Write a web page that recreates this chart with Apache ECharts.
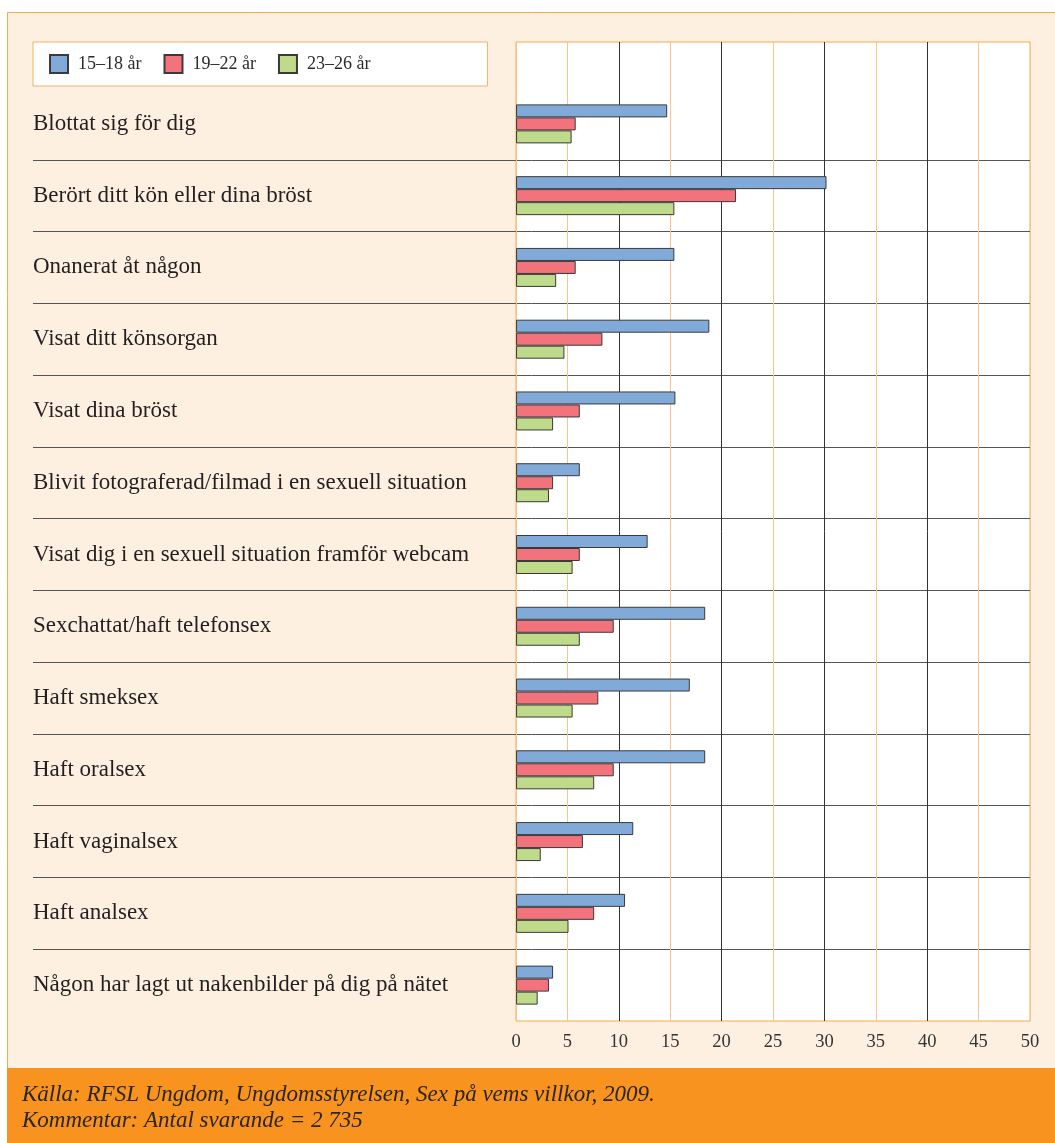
<!DOCTYPE html>
<html>
<head>
<meta charset="utf-8">
<script src="https://cdn.jsdelivr.net/npm/echarts@6/dist/echarts.min.js"></script>
<style>
  html, body { margin: 0; padding: 0; background: #fff; }
  #chart { width: 1055px; height: 1143px; }
</style>
</head>
<body>
<div id="chart"></div>
<script>
// kategorier, uppifrån och ner
const categories = [
  'Blottat sig för dig',
  'Berört ditt kön eller dina bröst',
  'Onanerat åt någon',
  'Visat ditt könsorgan',
  'Visat dina bröst',
  'Blivit fotograferad/filmad i en sexuell situation',
  'Visat dig i en sexuell situation framför webcam',
  'Sexchattat/haft telefonsex',
  'Haft smeksex',
  'Haft oralsex',
  'Haft vaginalsex',
  'Haft analsex',
  'Någon har lagt ut nakenbilder på dig på nätet'
]
const seriesNames = ['15–18 år', '19–22 år', '23–26 år']
const values1518 = [14.7, 30.2, 15.4, 18.8, 15.5, 6.2, 12.8, 18.4, 16.9, 18.4, 11.4, 10.6, 3.6]
const values1922 = [5.8, 21.4, 5.8, 8.4, 6.2, 3.6, 6.2, 9.5, 8.0, 9.5, 6.5, 7.6, 3.2]
const values2326 = [5.4, 15.4, 3.9, 4.7, 3.6, 3.2, 5.5, 6.2, 5.5, 7.6, 2.4, 5.1, 2.1]
// x-axelns skala
const xMin = 0
const xMax = 50
const xStep = 5
const footerLines = [
  'Källa: RFSL Ungdom, Ungdomsstyrelsen, Sex på vems villkor, 2009.',
  'Kommentar: Antal svarande = 2 735'
]

const colors = ['#82aad9', '#f2737c', '#bddb8a']
const serif = '"Liberation Serif", "DejaVu Serif", serif'

const chart = echarts.init(document.getElementById('chart'), null, {renderer: 'canvas'})

const makeBar = (name, data, i) => ({
  name: name,
  type: 'bar',
  xAxisIndex: 1,
  yAxisIndex: 1,
  barWidth: 13,
  barGap: '0%',
  data: data,
  itemStyle: {
    color: colors[i],
    borderColor: '#3a3a3a',
    borderWidth: 1
  }
})

const option = {
  backgroundColor: '#fff',
  animation: false,
  graphic: [
    {
      type: 'rect',
      z: -10,
      shape: {x: 7.5, y: 12.5, width: 1100, height: 1200},
      style: {fill: '#fdf0e1', stroke: '#f6a94f', lineWidth: 1}
    },
    {
      type: 'rect',
      z: -9,
      shape: {x: 7, y: 1068, width: 1060, height: 80},
      style: {fill: '#f7931e'}
    }
  ],
  title: {
    text: footerLines.join('\n'),
    left: 22,
    top: 1082,
    padding: 0,
    textStyle: {
      fontFamily: serif,
      fontStyle: 'italic',
      fontWeight: 'normal',
      fontSize: 23,
      lineHeight: 26,
      color: '#2a2520'
    }
  },
  legend: {
    left: 33,
    top: 42,
    padding: [12, 117, 12, 16],
    itemWidth: 18,
    itemHeight: 18,
    itemGap: 22,
    icon: 'rect',
    backgroundColor: '#fff',
    borderColor: '#f6b066',
    borderWidth: 1,
    textStyle: {
      fontFamily: serif,
      fontSize: 18,
      color: '#2a2a2a',
      padding: [0, 0, 0, 5]
    },
    data: seriesNames
  },
  grid: [
    // vita plottytan med stödlinjer
    {
      left: 516, right: 25, top: 42, bottom: 122,
      show: true,
      z: -1,
      backgroundColor: '#fff',
      borderColor: '#f6a94f',
      borderWidth: 1
    },
    // staplarna, utdragen åt vänster så att skiljelinjerna når etiketterna
    {left: 33, right: 25, top: 88, bottom: 122}
  ],
  xAxis: [
    {
      gridIndex: 0,
      type: 'value',
      min: xMin, max: xMax, interval: xStep,
      axisLine: {show: false},
      axisTick: {show: false},
      axisLabel: {
        margin: 12,
        fontFamily: serif,
        fontSize: 18.5,
        color: '#333'
      },
      splitLine: {lineStyle: {color: '#f9c48c', width: 1}}
    },
    {
      gridIndex: 1,
      type: 'value',
      min: -47, max: xMax,
      show: false,
      splitLine: {show: false}
    },
    {
      gridIndex: 0,
      type: 'value',
      position: 'top',
      min: xMin, max: xMax, interval: xStep * 2,
      axisLine: {show: false},
      axisTick: {show: false},
      axisLabel: {show: false},
      splitLine: {
        showMinLine: false,
        showMaxLine: false,
        lineStyle: {color: '#333', width: 1}
      }
    }
  ],
  yAxis: [
    {
      gridIndex: 0,
      type: 'value',
      show: false,
      splitLine: {show: false}
    },
    {
      gridIndex: 1,
      type: 'category',
      inverse: true,
      data: categories,
      axisLine: {show: false},
      axisTick: {show: false},
      axisLabel: {
        inside: true,
        margin: 0,
        align: 'left',
        fontFamily: serif,
        fontSize: 23,
        color: '#231f20'
      },
      splitLine: {
        show: true,
        showMinLine: false,
        showMaxLine: false,
        lineStyle: {color: '#555', width: 1}
      }
    }
  ],
  series: [
    makeBar(seriesNames[0], values1518, 0),
    makeBar(seriesNames[1], values1922, 1),
    makeBar(seriesNames[2], values2326, 2)
  ]
}

chart.setOption(option)
</script>
</body>
</html>
